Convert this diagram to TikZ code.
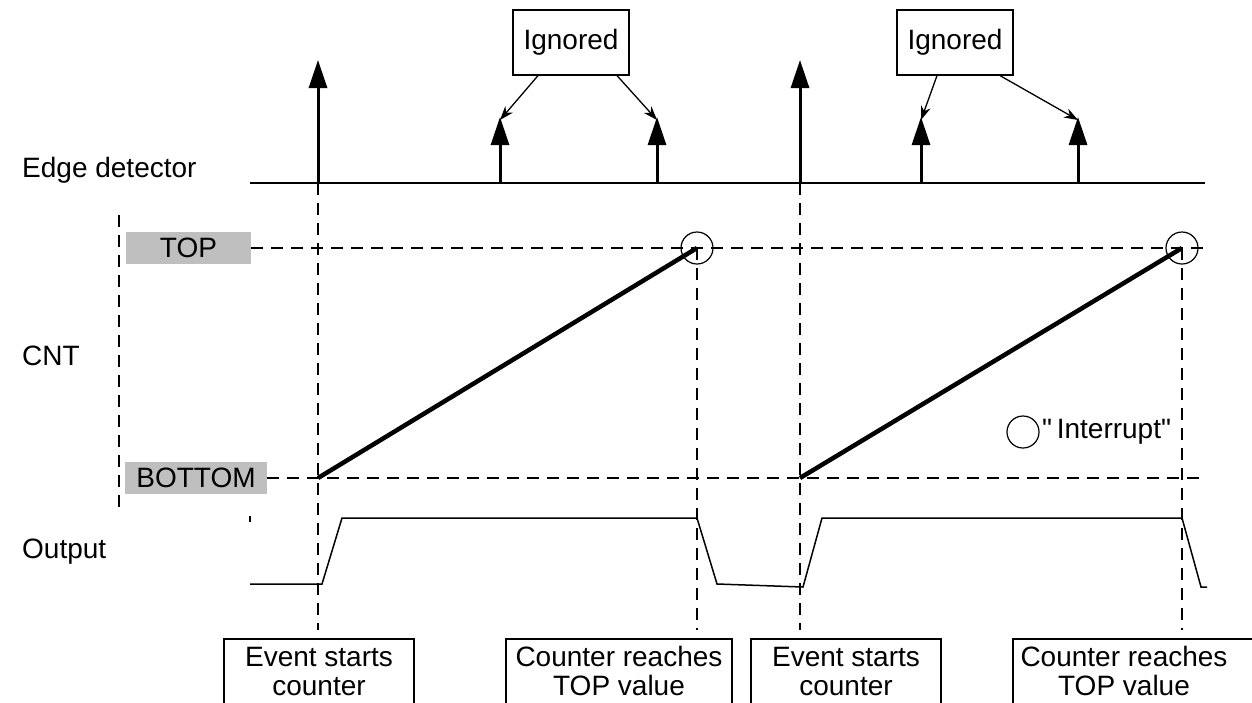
\documentclass[tikz,border=0pt]{standalone}
\usepackage{fontspec}
\setmainfont{Liberation Sans}
\newfontfamily\plainquote{Liberation Sans}[Ligatures=TeXOff]
\usetikzlibrary{arrows.meta}
\begin{document}
\begin{tikzpicture}[x=1pt,y=-1pt,
  every node/.style={font=\fontsize{28}{29}\selectfont, inner sep=0pt},
  sig/.style={line width=1.5pt},
  guide/.style={line width=1.5pt, dash pattern=on 12pt off 8pt},
  edgearrow/.style={line width=3pt, -{Triangle[width=18pt,length=28pt]}},
  notearrow/.style={line width=1.3pt, -{Stealth[length=14pt,width=10pt]}},
  ignbox/.style={draw, line width=1.2pt, minimum width=116pt, minimum height=65pt},
  lvlbox/.style={fill=black!25, minimum height=32pt},
  ring/.style={circle, draw, line width=1.2pt, minimum size=32pt},
  frame/.style={line width=1.2pt},
  ramp/.style={line width=4.5pt},
  evtext/.style={align=center}
]
\useasboundingbox (0,0) rectangle (1252,702);
\clip (0,0) rectangle (1252,702);

% row labels
\node[anchor=base west] (lblEdge) at (22,177) {Edge detector};
\node[anchor=base west] (lblCnt) at (22,365) {CNT};
\node[anchor=base west] (lblOut) at (22,558) {Output};

% edge detector baseline
\coordinate (eL) at (250,183);
\coordinate (eR) at (1205,183);
\draw[sig] (eL) -- (eR);

% edge arrows
\coordinate (a1) at (318,183); \coordinate (a1t) at (318,60);
\coordinate (a2) at (500,183); \coordinate (a2t) at (500,117);
\coordinate (a3) at (657,183); \coordinate (a3t) at (657,117);
\coordinate (a4) at (800,183); \coordinate (a4t) at (800,60);
\coordinate (a5) at (921,183); \coordinate (a5t) at (921,117);
\coordinate (a6) at (1078,183); \coordinate (a6t) at (1078,117);
\foreach \i in {1,...,6} \draw[edgearrow] (a\i) -- (a\i t);

% ignored boxes
\node[ignbox] (ig1) at (571,42.5) {Ignored};
\node[ignbox] (ig2) at (955,42.5) {Ignored};
\draw[notearrow] ([xshift=-33pt]ig1.south) -- ([yshift=-3pt]a2t);
\draw[notearrow] ([xshift=46pt]ig1.south) -- ([yshift=-3pt]a3t);
\draw[notearrow] ([xshift=-18pt]ig2.south) -- ([yshift=-3pt]a5t);
\draw[notearrow] ([xshift=45pt]ig2.south) -- ([yshift=-3pt]a6t);

% level boxes
\node[lvlbox, minimum width=125pt] (top) at (188.5,248) {TOP};
\node[lvlbox, minimum width=142pt] (bot) at (196,478) {BOTTOM};
\coordinate (topR) at (1205,248);
\coordinate (botR) at (1205,478);
\draw[guide] (top.east) -- (topR);
\draw[guide] (bot.east) -- (botR);

% left CNT axis
\coordinate (axT) at (119,215);
\coordinate (axB) at (119,510);
\draw[guide] (axT) -- (axB);

% rings
\node[ring] (c1) at (697,248) {};
\node[ring] (c2) at (1182,248) {};

% ramps
\coordinate (s1) at (318,478);
\coordinate (s2) at (800,478);
\draw[ramp] (s1) -- (c1.center);
\draw[ramp] (s2) -- (c2.center);

% vertical guides
\coordinate (g1) at (318,630);
\coordinate (g2) at (697,630);
\coordinate (g3) at (800,630);
\coordinate (g4) at (1182,630);
\draw[guide] (a1) -- (g1);
\draw[guide] (c1.center) -- (g2);
\draw[guide] (a4) -- (g3);
\draw[guide] (c2.center) -- (g4);

% output waveform
\draw[sig] (250,584) -- (322,584) -- (342,518) -- (697,518) -- (717,584)
  -- (803,587) -- (822,518) -- (1182,518) -- (1201,587) -- (1207,587);
\draw[line width=1.2pt] (250,516) -- (250,522);

% legend
\node[ring] (lg) at (1023,432) {};
\node[anchor=west] (lgt) at (1042,432) {\plainquote "\,Interrupt"};

% bottom boxes
\node[evtext] (ev1) at (319,671) {Event starts\\counter};
\draw[frame] (224,720) |- (414,639) -- (414,720);
\node[evtext] (ev2) at (619,671) {Counter reaches\\TOP value};
\draw[frame] (506,720) |- (732,639) -- (732,720);
\node[evtext] (ev3) at (846,671) {Event starts\\counter};
\draw[frame] (751,720) |- (941,639) -- (941,720);
\node[evtext] (ev4) at (1124,671) {Counter reaches\\TOP value};
\draw[frame] (1013,720) |- (1270,639);
\end{tikzpicture}
\end{document}
